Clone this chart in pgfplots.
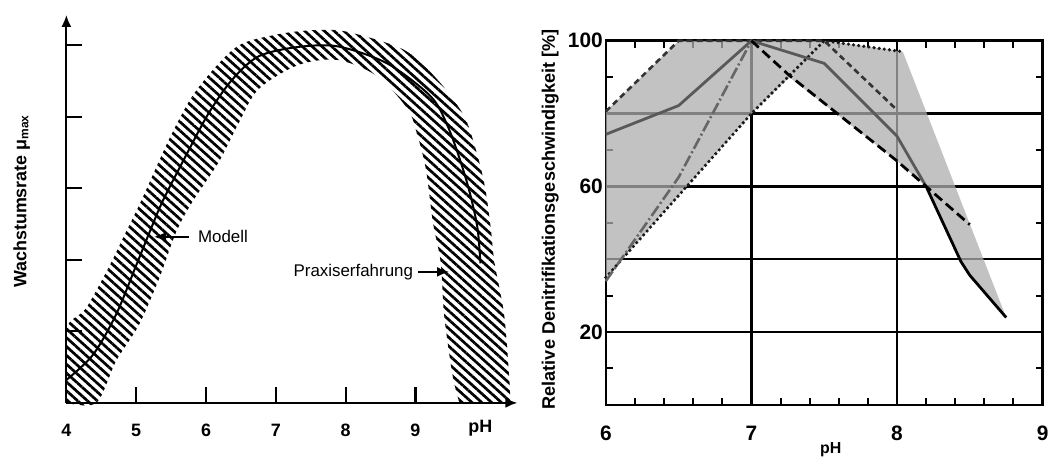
\documentclass[border=0pt]{standalone}
\usepackage{pgfplots}
\pgfplotsset{compat=1.18}
\usepgfplotslibrary{fillbetween}
\usetikzlibrary{patterns.meta,arrows.meta}
\usepackage{fontspec}
\setmainfont{Liberation Sans}

\begin{document}
\begin{tikzpicture}
\path (0,0) rectangle (527.5pt,229pt);
% ---------------- left panel ----------------
\begin{axis}[
  at={(33.35pt,26.5pt)}, anchor=south west, scale only axis,
  width=226.7pt, height=195pt,
  xmin=4, xmax=10.46, ymin=0, ymax=5.42,
  axis x line*=bottom, axis y line*=left,
  axis line style={line width=1pt, -{Latex[length=6pt,width=5pt]}},
  xtick={4,...,9}, ytick=\empty,
  xtick pos=bottom,
  major tick length=0pt,
  /pgf/number format/assume math mode=true,
  xticklabel style={font=\fontsize{9}{10}\selectfont\bfseries, yshift=-7pt},
  every axis y label/.style={at={(axis description cs:-0.099,0.52)}, rotate=90, anchor=center,
     font=\fontsize{9}{11}\selectfont\bfseries},
  ylabel={Wachstumsrate μ\textsubscript{max}},
  clip=false,
]
\addplot[name path=upper, draw=none, smooth, tension=0.5] coordinates {
 (4.0,0) (4.0,1.02) (4.28,1.32) (4.62,1.92) (4.85,2.38) (5.07,2.82) (5.47,3.68)
 (5.80,4.28) (6.18,4.74) (6.52,5.02) (7.09,5.16) (7.6,5.21) (8.04,5.18) (8.84,4.93)
 (9.32,4.51) (9.70,4.0) (9.89,3.45) (10.0,2.99) (10.08,2.43) (10.13,1.97) (10.27,1.23)
 (10.34,0.39) (10.36,0)};
\addplot[name path=lower, draw=none, smooth, tension=0.5] coordinates {
 (4.0,0) (4.43,0) (4.71,0.58) (5.04,1.09) (5.33,1.74) (5.57,2.38) (5.80,2.80)
 (6.18,3.36) (6.47,3.91) (6.75,4.38) (7.32,4.72) (7.89,4.79) (8.46,4.56) (8.89,4.10)
 (9.03,3.73) (9.15,3.26) (9.25,2.52) (9.36,1.97) (9.41,1.23) (9.53,0.39) (9.63,0)};
\addplot[pattern={Lines[angle=-42, distance=3.3pt, line width=1.35pt]}, pattern color=black]
  fill between[of=upper and lower];
\addplot[black, line width=1pt, smooth, tension=0.5] coordinates {
 (4.0,0.32) (4.38,0.67) (4.71,1.23) (5.0,1.92) (5.19,2.38) (5.38,2.82) (5.71,3.45)
 (6.04,4.05) (6.37,4.51) (6.75,4.84) (7.3,4.97) (7.89,4.98) (8.60,4.74) (9.22,4.28)
 (9.46,3.87) (9.65,3.36) (9.79,2.89) (9.89,2.43) (9.93,1.95)};
% tick marks (x: vertical bar marks; y: short segments)
\addplot[only marks, mark=|, mark size=4pt, mark options={black, line width=1.1pt}, forget plot] coordinates {
 (5,0.11) (6,0.11) (7,0.11) (8,0.11) (9,0.11)};
\addplot[black, line width=1pt, unbounded coords=jump, forget plot] coordinates {
 (4,1) (4.22,1) (nan,nan) (4,2) (4.22,2) (nan,nan) (4,3) (4.22,3) (nan,nan)
 (4,4) (4.22,4) (nan,nan) (4,5) (4.22,5)};
\draw[line width=0.8pt, -{Latex[length=6pt,width=5pt]}] (axis cs:5.76,2.32) -- (axis cs:5.258,2.32);
\node[anchor=west, inner sep=0pt, font=\fontsize{8.5}{9}\selectfont] at (axis cs:5.88,2.32) {Modell};
\draw[line width=0.8pt, -{Latex[length=6pt,width=5pt]}] (axis cs:9.04,1.83) -- (axis cs:9.48,1.83);
\node[anchor=east, inner sep=0pt, font=\fontsize{8.5}{9}\selectfont] at (axis cs:8.97,1.83) {Praxiserfahrung};
\node[font=\fontsize{9}{10}\selectfont\bfseries] at (axis cs:9.93,-0.35) {pH};
\end{axis}

% ---------------- right panel ----------------
\begin{axis}[
  at={(304.5pt,25.5pt)}, anchor=south west, scale only axis,
  width=219.5pt, height=183pt,
  xmin=6, xmax=9, ymin=0, ymax=100,
  xtick={6,7,8,9}, ytick={0,20,...,100}, yticklabels={,20,,60,,100},
  minor x tick num=4, minor y tick num=1,
  grid=major, major grid style={black, line width=1.2pt},
  axis line style={line width=1.3pt},
  tick align=inside, major tick length=0pt, minor tick length=3.5pt,
  minor tick style={black, line width=1pt},
  /pgf/number format/assume math mode=true,
  xticklabel style={font=\fontsize{10.5}{12}\selectfont\bfseries, yshift=-7pt},
  yticklabel style={font=\fontsize{10.5}{12}\selectfont\bfseries, xshift=2pt},
  every axis y label/.style={at={(axis description cs:-0.1276,0.51)}, rotate=90, anchor=center,
     font=\fontsize{9.1}{11}\selectfont\bfseries},
  ylabel={Relative Denitrifikationsgeschwindigkeit [\%]},
  every axis x label/.style={at={(axis description cs:0.515,-0.123)}, anchor=center,
     font=\fontsize{8}{10}\selectfont\bfseries},
  xlabel={pH},
  clip=false,
]
\addplot[draw=none, fill=black!32, fill opacity=0.75] coordinates {
 (6,35) (6,80.6) (6.5,100) (7.5,100) (8.04,97) (8.75,24) (8.5,35.6) (8.44,39.3)
 (8.2,60) (8,67) (7.26,90) (7,80) (6,35)};
% dotted
\addplot[black!90, line width=1.8pt, line cap=round, dash pattern=on 0pt off 2.6pt] coordinates {
 (6,35) (7,80) (7.5,100) (8.04,97)};
% dash-dot
\addplot[black!60, line width=1.3pt, dash pattern=on 6pt off 1.5pt on 1pt off 1.5pt] coordinates {
 (6,34) (6.5,62.5) (7,100)};
% short dashed
\addplot[black!80, line width=1.3pt, dash pattern=on 3pt off 2pt] coordinates {
 (6,80.6) (6.5,100) (7.5,100) (8,81)};
% solid gray
\addplot[black!65, line width=1.4pt] coordinates {
 (6,74.3) (6.5,82.2) (7,100) (7.5,93.8) (8,73.8) (8.2,60)};
\addplot[black, line width=1.4pt] coordinates {
 (8.2,60) (8.44,39.3) (8.5,35.6) (8.75,24)};
% long dashed
\addplot[black, line width=1.4pt, dash pattern=on 5pt off 2.5pt] coordinates {
 (7,100) (7.26,90.5) (8,67) (8.5,49.5)};
\end{axis}
\end{tikzpicture}
\end{document}
